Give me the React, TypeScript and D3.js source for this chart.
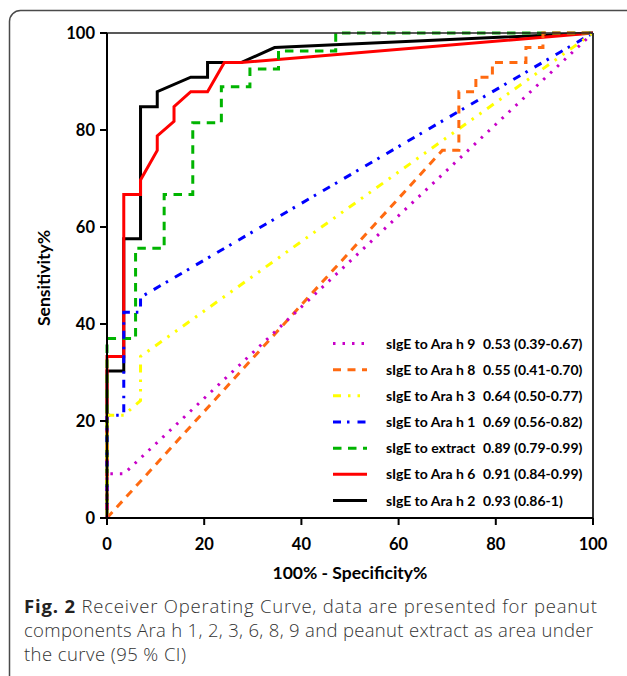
import * as d3 from "d3";

// ROC curves, x = 100% - specificity, y = sensitivity (both in %)
const araH2X = [0, 0, 3.45, 3.45, 6.9, 6.9, 10.34, 10.34, 17.24, 20.69, 20.69, 27.59, 34.48, 100];
const araH2Y = [0, 30.3, 30.3, 57.6, 57.6, 84.8, 84.8, 87.9, 90.9, 90.9, 93.9, 93.9, 97.0, 100];

const araH6X = [0, 0, 3.45, 3.45, 6.9, 6.9, 10.34, 10.34, 13.79, 13.79, 17.24, 20.69, 24.14, 27.59, 100];
const araH6Y = [0, 33.3, 33.3, 66.7, 66.7, 69.7, 75.8, 78.8, 81.8, 84.8, 87.9, 87.9, 93.9, 93.9, 100];

const extractX = [0, 0, 5.88, 5.88, 11.76, 11.76, 17.65, 17.65, 23.53, 23.53, 29.41, 29.41, 35.29, 35.29, 47.06, 47.06, 100];
const extractY = [0, 37.0, 37.0, 55.6, 55.6, 66.7, 66.7, 81.5, 81.5, 88.9, 88.9, 92.6, 92.6, 96.3, 96.3, 100, 100];

const araH1X = [0, 0, 3.45, 3.45, 6.9, 6.9, 100];
const araH1Y = [0, 21.2, 21.2, 42.4, 42.4, 45.5, 100];

const araH3X = [0, 0, 3.45, 6.9, 6.9, 100];
const araH3Y = [0, 21.2, 21.2, 24.2, 33.3, 100];

const araH8X = [0, 69.0, 72.4, 72.4, 75.9, 75.9, 79.3, 79.3, 86.2, 86.2, 89.7, 89.7, 100];
const araH8Y = [0, 75.8, 75.8, 87.9, 87.9, 90.9, 90.9, 93.9, 93.9, 97.0, 97.0, 100, 100];

const araH9X = [0, 0, 3.45, 100];
const araH9Y = [0, 9.1, 9.1, 100];

const legendLabels = [
  "sIgE to Ara h 9",
  "sIgE to Ara h 8",
  "sIgE to Ara h 3",
  "sIgE to Ara h 1",
  "sIgE to extract",
  "sIgE to Ara h 6",
  "sIgE to Ara h 2",
];
const legendAuc = [
  "0.53 (0.39-0.67)",
  "0.55 (0.41-0.70)",
  "0.64 (0.50-0.77)",
  "0.69 (0.56-0.82)",
  "0.89 (0.79-0.99)",
  "0.91 (0.84-0.99)",
  "0.93 (0.86-1)",
];

const captionLines = [
  "Receiver Operating Curve, data are presented for peanut",
  "components Ara h 1, 2, 3, 6, 8, 9 and peanut extract as area under",
  "the curve (95 % CI)",
];

// styles, in legend order
const seriesStyle = [
  { color: "#c800c8", dash: "2.5,7", width: 3 },
  { color: "#ff6a10", dash: "8,6.5", width: 3 },
  { color: "#ffff00", dash: "8,7,2.5,7,2.5,7", width: 3 },
  { color: "#0000ff", dash: "8,6,2.5,8", width: 3 },
  { color: "#00b400", dash: "8.5,6.5", width: 3 },
  { color: "#ff0000", dash: "none", width: 3 },
  { color: "#000000", dash: "none", width: 3 },
];
const seriesData = [
  [araH9X, araH9Y],
  [araH8X, araH8Y],
  [araH3X, araH3Y],
  [araH1X, araH1Y],
  [extractX, extractY],
  [araH6X, araH6Y],
  [araH2X, araH2Y],
];

const W = 627;
const H = 676;
const chartFont = "Lato, 'DejaVu Sans', sans-serif";
const captionFont = "'Open Sans', sans-serif";

export default function App() {
  const x = d3.scaleLinear().domain([0, 100]).range([107, 593]);
  const y = d3.scaleLinear().domain([0, 100]).range([518, 33]);
  const ticks = x.ticks(5);

  const line = d3
    .line<[number, number]>()
    .x((d) => x(d[0]))
    .y((d) => y(d[1]));

  const legendY = d3.scalePoint<number>().domain(d3.range(7)).range([343.5, 500.5]);

  return (
    <svg
      width={W}
      height={H}
      style={{ position: "absolute", left: 0, top: 0, background: "#fff" }}
    >
      {/* figure frame */}
      <rect x={9.5} y={10.5} width={640} height={700} rx={11} fill="#fff" stroke="#4a4a4a" strokeWidth={1.5} />

      {/* curves, last legend entry drawn first */}
      {seriesData
        .map((s, i) => ({ s, i }))
        .reverse()
        .map(({ s, i }) => {
          const st = seriesStyle[i];
          const pts = s[0].map((v, k) => [v, s[1][k]] as [number, number]);
          return (
            <path
              key={i}
              d={line(pts) ?? ""}
              fill="none"
              stroke={st.color}
              strokeWidth={st.width}
              strokeDasharray={st.dash}
              strokeLinejoin="miter"
            />
          );
        })}

      {/* plot box */}
      <line x1={x(0)} x2={x(100)} y1={y(100)} y2={y(100)} stroke="#222" strokeWidth={1.5} />
      <line x1={x(100)} x2={x(100)} y1={y(100)} y2={y(0)} stroke="#333" strokeWidth={2} />
      <line x1={x(0)} x2={x(100)} y1={y(0)} y2={y(0)} stroke="#000" strokeWidth={2} />
      <line x1={x(0)} x2={x(0)} y1={y(100)} y2={y(0)} stroke="#000" strokeWidth={2} />

      {/* y axis */}
      {ticks.map((t) => (
        <g key={"y" + t}>
          <line x1={x(0) - 7} x2={x(0)} y1={y(t)} y2={y(t)} stroke="#000" strokeWidth={2} />
          <text
            x={95}
            y={y(t) + 6}
            textAnchor="end"
            fontFamily={chartFont}
            fontWeight="bold"
            fontSize={16.5}
          >
            {t}
          </text>
        </g>
      ))}

      {/* x axis */}
      {ticks.map((t) => (
        <g key={"x" + t}>
          <line x1={x(t)} x2={x(t)} y1={y(0)} y2={y(0) + 7} stroke="#000" strokeWidth={2} />
          <text
            x={x(t)}
            y={550}
            textAnchor="middle"
            fontFamily={chartFont}
            fontWeight="bold"
            fontSize={16.5}
          >
            {t}
          </text>
        </g>
      ))}

      <text
        x={350}
        y={579}
        textAnchor="middle"
        fontFamily={chartFont}
        fontWeight="bold"
        fontSize={17.5}
      >
        100% - Specificity%
      </text>
      <text
        transform={`translate(50,278) rotate(-90)`}
        textAnchor="middle"
        fontFamily={chartFont}
        fontWeight="bold"
        fontSize={17.5}
      >
        Sensitivity%
      </text>

      {/* legend */}
      {legendLabels.map((lab, i) => {
        const st = seriesStyle[i];
        const ly = legendY(i) ?? 0;
        return (
          <g key={lab}>
            <line
              x1={333}
              x2={367}
              y1={ly}
              y2={ly}
              stroke={st.color}
              strokeWidth={st.width}
              strokeDasharray={st.dash}
            />
            <text x={386} y={ly + 5} fontFamily={chartFont} fontWeight="bold" fontSize={14}>
              {lab}
            </text>
            <text x={483} y={ly + 5} fontFamily={chartFont} fontWeight="bold" fontSize={14}>
              {legendAuc[i]}
            </text>
          </g>
        );
      })}

      {/* caption */}
      <text
        x={24}
        y={613}
        fontFamily={captionFont}
        fontSize={18.5}
        fill="#333"
        textLength={573}
        lengthAdjust="spacing"
      >
        <tspan fontWeight="bold" fill="#222">Fig. 2</tspan>
        <tspan fontWeight={300}> {captionLines[0]}</tspan>
      </text>
      <text
        x={24}
        y={637}
        fontFamily={captionFont}
        fontWeight={300}
        fontSize={18.5}
        fill="#333"
        textLength={569}
        lengthAdjust="spacing"
      >
        {captionLines[1]}
      </text>
      <text
        x={24}
        y={661}
        fontFamily={captionFont}
        fontWeight={300}
        fontSize={18.5}
        fill="#333"
        textLength={162}
        lengthAdjust="spacing"
      >
        {captionLines[2]}
      </text>
    </svg>
  );
}
